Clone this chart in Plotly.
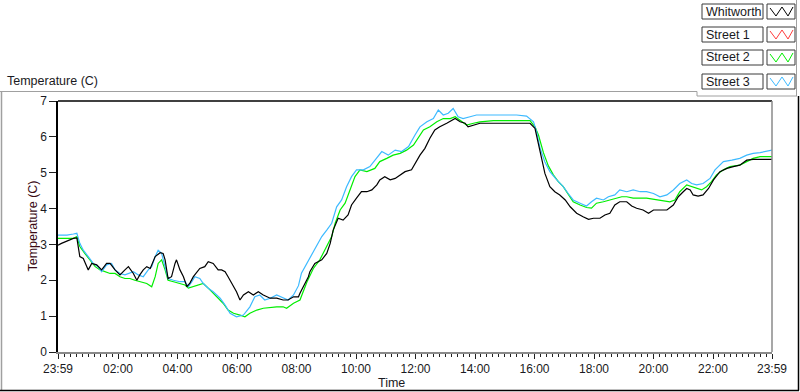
import plotly.graph_objects as go

# ---------------- data (time = minutes after 23:59 of the previous day) ----------------
whitworth_t = [0, 7, 31, 38, 44, 51, 61, 68, 78, 88, 98, 105, 115, 125, 135, 142, 152, 159, 165, 172,
               179, 186, 196, 206, 212, 216, 222, 229, 236, 239, 246, 253, 260, 266, 273, 280, 286, 296,
               303, 313, 323, 330, 337, 343, 350, 360, 367, 374, 384, 394, 404, 414, 428, 441, 454, 464,
               475, 485, 488, 495, 505, 508, 518, 532, 542, 549, 555, 565, 575, 585, 592, 602, 612, 623,
               633, 643, 649, 659, 670, 680, 690, 700, 713, 720, 730, 740, 750, 760, 770, 784, 794, 801,
               811, 821, 827, 838, 851, 885, 918, 952, 962, 969, 976, 982, 992, 1002, 1012, 1023, 1033,
               1046, 1059, 1070, 1080, 1093, 1103, 1113, 1123, 1133, 1147, 1157, 1167, 1180, 1191, 1201,
               1214, 1228, 1241, 1251, 1261, 1268, 1275, 1281, 1291, 1301, 1312, 1322, 1335, 1349, 1362,
               1375, 1389, 1402, 1422, 1440]
whitworth_v = [2.98, 3.03, 3.17, 3.18, 2.66, 2.61, 2.29, 2.47, 2.43, 2.29, 2.47, 2.47, 2.29, 2.15, 2.29,
               2.38, 2.19, 2.00, 2.15, 2.29, 2.38, 2.33, 2.66, 2.77, 2.75, 2.57, 2.05, 2.10, 2.47, 2.57,
               2.29, 2.10, 1.82, 1.92, 2.10, 2.24, 2.33, 2.38, 2.52, 2.47, 2.29, 2.29, 2.24, 2.10, 1.92,
               1.68, 1.45, 1.59, 1.68, 1.59, 1.68, 1.59, 1.50, 1.50, 1.45, 1.45, 1.54, 1.54, 1.64, 1.82,
               2.10, 2.24, 2.47, 2.57, 2.75, 3.03, 3.40, 3.73, 3.68, 3.82, 4.10, 4.29, 4.47, 4.47, 4.52,
               4.66, 4.80, 4.89, 4.80, 4.84, 4.94, 5.03, 5.08, 5.26, 5.49, 5.68, 5.96, 6.19, 6.28, 6.38,
               6.47, 6.51, 6.42, 6.38, 6.28, 6.33, 6.38, 6.38, 6.38, 6.38, 6.24, 5.78, 5.28, 4.98, 4.61,
               4.47, 4.38, 4.24, 4.05, 3.87, 3.77, 3.70, 3.73, 3.73, 3.82, 3.87, 4.10, 4.19, 4.19, 4.07,
               4.01, 3.96, 3.87, 3.96, 3.96, 3.96, 4.10, 4.33, 4.47, 4.56, 4.52, 4.38, 4.35, 4.38, 4.56,
               4.80, 5.03, 5.12, 5.17, 5.21, 5.35, 5.37, 5.37, 5.37]

street1_t = []
street1_v = []

street2_t = [0, 31, 38, 44, 54, 65, 75, 85, 95, 105, 115, 125, 135, 145, 155, 165, 179, 189, 196, 202,
             209, 216, 222, 233, 246, 256, 263, 273, 283, 293, 303, 313, 323, 333, 343, 354, 367, 377,
             387, 401, 414, 428, 441, 454, 461, 475, 488, 502, 515, 528, 542, 552, 559, 569, 579, 589,
             599, 609, 623, 639, 649, 663, 676, 690, 703, 717, 727, 737, 750, 764, 777, 791, 801, 811,
             824, 838, 851, 878, 918, 952, 962, 969, 979, 989, 999, 1009, 1019, 1029, 1039, 1053, 1066,
             1076, 1086, 1100, 1113, 1127, 1137, 1147, 1160, 1187, 1214, 1234, 1244, 1254, 1268, 1278,
             1288, 1298, 1308, 1318, 1328, 1342, 1355, 1375, 1389, 1402, 1416, 1440]
street2_v = [3.17, 3.17, 3.22, 2.94, 2.75, 2.57, 2.38, 2.29, 2.24, 2.19, 2.19, 2.10, 2.05, 2.05, 2.00,
             1.96, 1.91, 1.82, 2.10, 2.47, 2.57, 2.29, 2.00, 1.96, 1.91, 1.87, 1.78, 1.82, 1.87, 1.91,
             1.78, 1.64, 1.50, 1.36, 1.17, 1.08, 1.03, 0.98, 1.08, 1.17, 1.22, 1.25, 1.26, 1.26, 1.22,
             1.36, 1.45, 1.95, 2.33, 2.57, 2.94, 3.22, 3.59, 3.96, 4.15, 4.52, 4.89, 5.08, 5.03, 5.12,
             5.31, 5.40, 5.49, 5.54, 5.63, 5.77, 6.00, 6.19, 6.28, 6.42, 6.51, 6.51, 6.56, 6.47, 6.33,
             6.38, 6.42, 6.45, 6.45, 6.45, 6.28, 6.05, 5.56, 5.19, 4.94, 4.75, 4.61, 4.38, 4.19, 4.10,
             4.03, 4.01, 4.15, 4.19, 4.24, 4.29, 4.33, 4.33, 4.29, 4.29, 4.24, 4.19, 4.24, 4.47, 4.66,
             4.61, 4.56, 4.52, 4.61, 4.75, 4.94, 5.08, 5.17, 5.21, 5.31, 5.40, 5.45, 5.45]

street3_t = [0, 18, 31, 38, 44, 51, 61, 71, 81, 88, 98, 108, 115, 125, 135, 142, 152, 162, 172, 182,
             189, 196, 202, 209, 216, 222, 233, 246, 256, 263, 270, 276, 286, 293, 303, 313, 327, 337,
             347, 360, 374, 387, 397, 407, 417, 428, 441, 454, 464, 475, 485, 491, 502, 512, 522, 532,
             542, 552, 562, 572, 582, 592, 602, 616, 629, 643, 653, 666, 680, 693, 707, 720, 730, 744,
             757, 767, 777, 787, 797, 807, 817, 831, 844, 865, 885, 905, 925, 945, 959, 965, 972, 982,
             992, 1006, 1019, 1029, 1039, 1053, 1066, 1076, 1086, 1100, 1110, 1123, 1133, 1147, 1160,
             1174, 1187, 1201, 1214, 1228, 1241, 1254, 1268, 1278, 1288, 1301, 1315, 1325, 1342, 1359,
             1375, 1389, 1402, 1416, 1429, 1440]
street3_v = [3.26, 3.26, 3.29, 3.31, 3.03, 2.84, 2.66, 2.47, 2.38, 2.24, 2.43, 2.47, 2.29, 2.19, 2.15,
             2.19, 2.24, 2.15, 2.10, 2.29, 2.38, 2.66, 2.84, 2.75, 2.38, 2.05, 2.00, 1.96, 1.96, 1.82,
             1.96, 2.10, 2.05, 1.91, 1.78, 1.68, 1.50, 1.31, 1.08, 0.98, 1.03, 1.26, 1.54, 1.59, 1.45,
             1.50, 1.59, 1.50, 1.45, 1.59, 1.85, 2.20, 2.47, 2.70, 2.94, 3.22, 3.40, 3.59, 4.05, 4.24,
             4.61, 4.89, 5.08, 5.08, 5.17, 5.40, 5.59, 5.49, 5.63, 5.59, 5.73, 6.05, 6.28, 6.42, 6.51,
             6.75, 6.61, 6.66, 6.79, 6.56, 6.51, 6.56, 6.61, 6.61, 6.61, 6.61, 6.61, 6.58, 6.42, 6.15,
             5.70, 5.30, 5.03, 4.80, 4.61, 4.42, 4.24, 4.15, 4.07, 4.19, 4.29, 4.24, 4.33, 4.38, 4.52,
             4.47, 4.52, 4.47, 4.47, 4.42, 4.33, 4.38, 4.52, 4.70, 4.80, 4.70, 4.66, 4.70, 4.84, 5.08,
             5.31, 5.35, 5.40, 5.49, 5.54, 5.56, 5.59, 5.63]

series_names = ["Whitworth", "Street 1", "Street 2", "Street 3"]
series_colors = ["#000000", "#ff3c3c", "#00ee00", "#3dbaff"]

x_tick_vals = [0, 121, 241, 361, 481, 601, 721, 841, 961, 1081, 1201, 1321, 1440]
x_tick_text = ["23:59", "02:00", "04:00", "06:00", "08:00", "10:00", "12:00",
               "14:00", "16:00", "18:00", "20:00", "22:00", "23:59"]
y_tick_vals = [0, 1, 2, 3, 4, 5, 6, 7]

# ---------------- layout helpers (pixel -> paper) ----------------
W, H = 800, 392
L, R, T, B = 58, 28, 101, 40
PW, PH = W - L - R, H - T - B


def px(x):
    return (x - L) / PW


def py(y):
    return (H - B - y) / PH


FONT = "Liberation Sans, Arial, sans-serif"
TXT = "#1a1a22"

fig = go.Figure()
data_sets = {
    "Street 1": (street1_t, street1_v),
    "Street 2": (street2_t, street2_v),
    "Street 3": (street3_t, street3_v),
    "Whitworth": (whitworth_t, whitworth_v),
}
color_of = dict(zip(series_names, series_colors))
for name, (tx, vy) in data_sets.items():
    fig.add_trace(go.Scatter(x=tx, y=vy, mode="lines", name=name,
                             line=dict(color=color_of[name], width=1.2),
                             showlegend=False, hoverinfo="skip"))

shapes = []
# plot frame (sunken look): black top/left, gray right/bottom
shapes.append(dict(type="line", xref="paper", yref="paper", x0=0, x1=1, y0=1, y1=1,
                   line=dict(color="#000000", width=1.5)))
shapes.append(dict(type="line", xref="paper", yref="paper", x0=1, x1=1, y0=0, y1=1,
                   line=dict(color="#8a8a8a", width=1.5)))
# outer panel
shapes.append(dict(type="line", xref="paper", yref="paper", x0=px(0), x1=px(697), y0=py(91.5), y1=py(91.5),
                   line=dict(color="#a0a0a0", width=1)))
shapes.append(dict(type="line", xref="paper", yref="paper", x0=px(1.5), x1=px(1.5), y0=py(91.5), y1=py(390.5),
                   line=dict(color="#a0a0a0", width=1.5)))
shapes.append(dict(type="line", xref="paper", yref="paper", x0=px(0), x1=px(799), y0=py(390.5), y1=py(390.5),
                   line=dict(color="#000000", width=1.5)))
shapes.append(dict(type="line", xref="paper", yref="paper", x0=px(798.5), x1=px(798.5), y0=py(96), y1=py(390.5),
                   line=dict(color="#000000", width=1.5)))
# legend frame
shapes.append(dict(type="line", xref="paper", yref="paper", x0=px(697), x1=px(797), y0=py(96), y1=py(96),
                   line=dict(color="#a0a0a0", width=1)))
shapes.append(dict(type="line", xref="paper", yref="paper", x0=px(697), x1=px(697), y0=py(91.5), y1=py(96),
                   line=dict(color="#a0a0a0", width=1)))
shapes.append(dict(type="line", xref="paper", yref="paper", x0=px(796.5), x1=px(796.5), y0=py(0), y1=py(96),
                   line=dict(color="#a0a0a0", width=1)))

annotations = []
row_tops = [4, 27, 50, 74]
for name, col, top in zip(series_names, series_colors, row_tops):
    bot = top + 15
    shapes.append(dict(type="rect", xref="paper", yref="paper", x0=px(702), x1=px(763),
                       y0=py(bot), y1=py(top), line=dict(color="#3a3a3a", width=1),
                       fillcolor="white"))
    shapes.append(dict(type="rect", xref="paper", yref="paper", x0=px(767), x1=px(795),
                       y0=py(bot), y1=py(top), line=dict(color="#3a3a3a", width=1),
                       fillcolor="white"))
    zx = [770, 776, 782, 788, 793]
    zy = [top + 4, bot - 3, top + 3, bot - 3, top + 3]
    path = "M " + " L ".join(f"{px(a):.5f},{py(b):.5f}" for a, b in zip(zx, zy))
    shapes.append(dict(type="path", xref="paper", yref="paper", path=path,
                       line=dict(color=col, width=1)))
    annotations.append(dict(xref="paper", yref="paper", x=px(704), y=py(top + 7.5),
                            xanchor="left", yanchor="middle", showarrow=False, text=name,
                            font=dict(family=FONT, size=12.5, color=TXT)))

annotations.append(dict(xref="paper", yref="paper", x=px(5), y=py(81), xanchor="left", yanchor="middle",
                        showarrow=False, text="Temperature (C)",
                        font=dict(family=FONT, size=12.5, color=TXT)))
annotations.append(dict(xref="paper", yref="paper", x=px(32), y=py(226.5), xanchor="center", yanchor="middle",
                        showarrow=False, text="Temperature (C)", textangle=-90,
                        font=dict(family=FONT, size=12.5, color="#3a0a14")))
annotations.append(dict(xref="paper", yref="paper", x=px(391), y=py(383), xanchor="center", yanchor="middle",
                        showarrow=False, text="Time",
                        font=dict(family=FONT, size=12.5, color=TXT)))

fig.update_layout(
    width=W, height=H, autosize=False,
    margin=dict(l=L, r=R, t=T, b=B, pad=0),
    paper_bgcolor="white", plot_bgcolor="white",
    showlegend=False,
    shapes=shapes, annotations=annotations,
    font=dict(family=FONT, size=12, color=TXT),
)
fig.update_xaxes(
    range=[0, 1440], tickmode="array", tickvals=x_tick_vals, ticktext=x_tick_text,
    showgrid=False, zeroline=False, showline=True, linecolor="#8a8a8a", linewidth=1.5,
    ticks="outside", ticklen=5, tickcolor="#202020", tickwidth=1,
    tickfont=dict(family=FONT, size=12, color=TXT),
    minor=dict(ticks="outside", tick0=1, dtick=12, ticklen=3, tickcolor="#202020", tickwidth=1,
               showgrid=False),
)
fig.update_yaxes(
    range=[0, 7], tickmode="array", tickvals=y_tick_vals,
    showgrid=False, zeroline=False, showline=True, linecolor="#000000", linewidth=1.5,
    ticks="outside", ticklen=7, tickcolor="#202020", tickwidth=1,
    tickfont=dict(family=FONT, size=12, color=TXT),
)

fig.write_html(
    "out.html",
    config={"displayModeBar": False},
    post_script="document.body.style.margin='0';document.body.style.padding='0';"
                "document.documentElement.style.overflow='hidden';",
)
